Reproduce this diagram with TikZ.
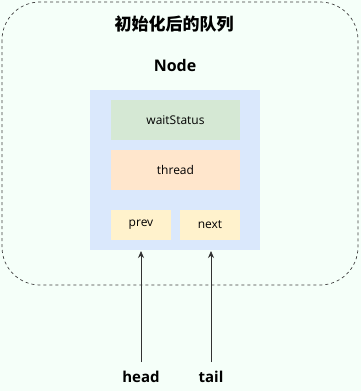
\documentclass[tikz,border=0pt]{standalone}
\usepackage{fontspec}
\setmainfont{Open Sans}
\newfontfamily\cjk{Noto Sans CJK SC}
\usetikzlibrary{arrows.meta}
\definecolor{bgc}{HTML}{F5FFF9}
\definecolor{nodebg}{HTML}{DAE8FC}
\definecolor{wsc}{HTML}{D5E8D4}
\definecolor{thc}{HTML}{FFE6CC}
\definecolor{pnc}{HTML}{FFF2CC}
\tikzset{
  field/.style={draw=none, minimum width=#1, inner sep=0pt, font=\fontsize{12}{14}\selectfont},
  ptr/.style={-{Stealth[length=7pt,width=6pt]}, line width=0.8pt, draw=black!80, shorten <=5pt},
  lbl/.style={font=\fontsize{15}{17}\selectfont\bfseries, anchor=base}
}
\begin{document}
\begin{tikzpicture}[x=1pt,y=-1pt]
\fill[bgc] (0,0) rectangle (361,391);
\useasboundingbox (0,0) rectangle (361,391);
\draw[dashed, draw=black!75, line width=0.7pt, rounded corners=38pt] (2,2) rectangle (358,285);
\node[font=\cjk\fontsize{17}{20}\selectfont\bfseries] (title) at (174,24) {初始化后的队列};
\node[font=\fontsize{16}{18}\selectfont\bfseries] (nodelbl) at (175,65) {Node};
\node[draw=none, fill=nodebg, minimum width=170pt, minimum height=160pt, inner sep=0pt] (box) at (175,170) {};
\node[field=129pt, minimum height=40pt, fill=wsc] (ws) at (175.5,120) {waitStatus};
\node[field=129pt, minimum height=40pt, fill=thc] (th) at (175.5,170) {thread};
\node[field=60pt, minimum height=30pt, fill=pnc] (prev) at (141,225) {prev};
\node[field=60pt, minimum height=30pt, fill=pnc] (next) at (210,225) {next};
\node[lbl] (head) at (141,382) {head};
\node[lbl] (tail) at (211,382) {tail};
\coordinate (ha) at (141,251);
\coordinate (ta) at (211,251);
\draw[ptr] (head.north) -- (ha);
\draw[ptr] (tail.north) -- (ta);
\end{tikzpicture}
\end{document}
